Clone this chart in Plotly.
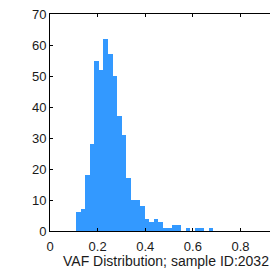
import plotly.graph_objects as go

# Histogram of VAF values (30 equal-width bins)
bin_start = 0.109
bin_width = 0.01923
counts = [6, 7, 18, 28, 55, 52, 62, 57, 50, 37,
          31, 17, 10, 10, 8, 4, 3, 4, 3, 1,
          1, 2, 2, 0, 1, 0, 1, 1, 0, 1]
x_ticks = [0, 0.2, 0.4, 0.6, 0.8]
x_tick_labels = ["0", "0.2", "0.4", "0.6", "0.8"]
y_ticks = [0, 10, 20, 30, 40, 50, 60, 70]
x_title = "VAF Distribution; sample ID:2032"

centers = [bin_start + bin_width * (i + 0.5) for i in range(len(counts))]

fig = go.Figure(go.Bar(
    x=centers, y=counts, width=bin_width,
    marker=dict(color="#3399ff", line=dict(width=0)),
    hoverinfo="skip",
))

font = dict(family="Liberation Sans, Arial, sans-serif", size=13, color="#1a1a1a")

fig.update_layout(
    width=270, height=271,
    margin=dict(l=50, r=0, t=14, b=40),
    plot_bgcolor="white", paper_bgcolor="white",
    showlegend=False, bargap=0,
    font=font,
    xaxis=dict(range=[0, 0.924], tickvals=x_ticks, ticktext=x_tick_labels,
               ticks="inside", ticklen=3, tickcolor="black",
               showline=True, linecolor="black", linewidth=1, mirror="ticks",
               showgrid=False, zeroline=False, ticklabelstandoff=3),
    yaxis=dict(range=[0, 70], tickvals=y_ticks,
               ticks="inside", ticklen=3, tickcolor="black",
               showline=True, linecolor="black", linewidth=1, mirror=False,
               showgrid=False, zeroline=False),
    annotations=[dict(text=x_title, xref="x", yref="paper", x=0.489, y=-0.136,
                      xanchor="center", yanchor="middle", showarrow=False,
                      font=dict(family="Liberation Sans, Arial, sans-serif", size=14, color="#1a1a1a"))],
)

fig.write_html("out.html",
               config={"displayModeBar": False, "staticPlot": True},
               post_script="document.body.style.margin='0';document.body.style.overflow='hidden';")
